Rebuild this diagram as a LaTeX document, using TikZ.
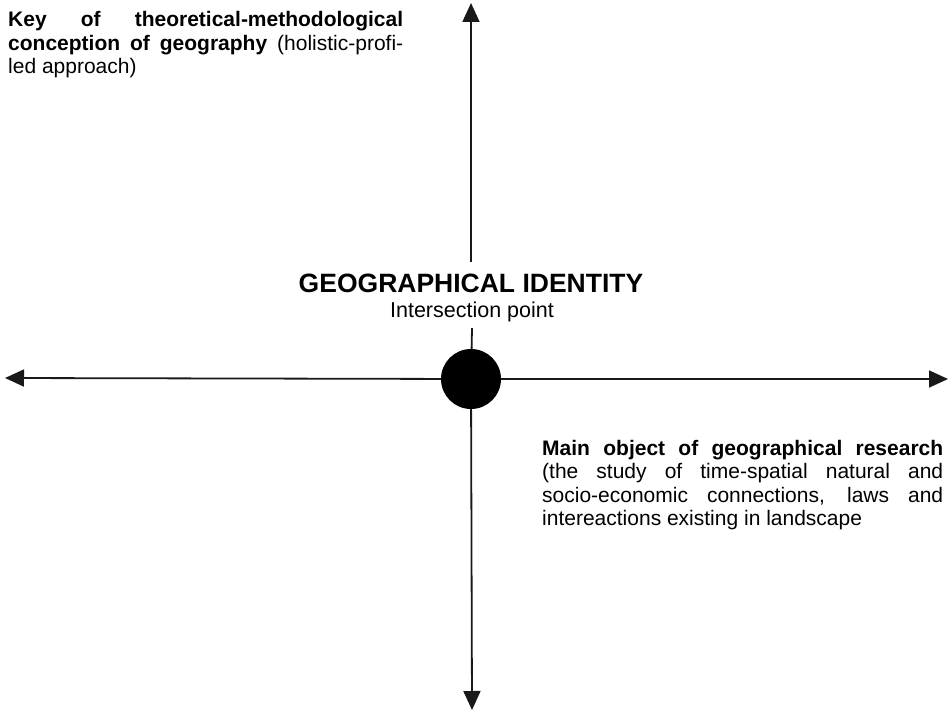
\documentclass[tikz,border=0pt]{standalone}
\usepackage{fontspec}
\setmainfont{Liberation Sans}
\usetikzlibrary{arrows.meta,positioning}

\tikzset{
  axis/.style={line width=1.8pt, draw=black!90, -{Triangle[length=19pt,width=17pt]}},
  plain/.style={line width=1.8pt, draw=black!90},
  notetext/.style={inner sep=0pt, align=justify, font=\fontsize{21}{23.5}\selectfont},
}

\begin{document}
\begin{tikzpicture}[x=1pt, y=-1pt]
  \useasboundingbox (0,0) rectangle (950,711);

  % intersection point and its labels
  \node[circle, fill=black, minimum size=60pt, inner sep=0pt] (hub) at (471,379) {};
  \node[anchor=base, inner xsep=0pt, inner ysep=11pt, font=\fontsize{26.5}{29}\selectfont\bfseries] (title) at (471,292) {GEOGRAPHICAL IDENTITY};
  \node[anchor=base, inner xsep=0pt, inner ysep=6.5pt, font=\fontsize{21.5}{23}\selectfont] (subtitle) at (472,317) {Intersection point};

  % arrow ends
  \coordinate (up) at (471,3);
  \coordinate (down) at (472,710);
  \coordinate (left) at (5,378);
  \coordinate (right) at (948,379);

  \draw[axis] (title.north) -- (up);
  \draw[plain] (subtitle.south) -- (hub);
  \draw[axis] (hub) -- (down);
  \draw[axis] (hub) -- (left);
  \draw[axis] (hub) -- (right);

  % explanations
  \node[notetext, text width=395pt, anchor=base west] (keytext) at (8,27) {
    \textbf{Key of theoretical-methodological\linebreak
    conception of geography} (holistic-profi-\linebreak
    led approach)};
  \node[notetext, text width=401pt, anchor=base west] (objecttext) at (542,455) {
    \textbf{Main object of geographical research}\linebreak
    (the study of time-spatial natural and\linebreak
    socio-economic connections, laws and\linebreak
    intereactions existing in landscape};
\end{tikzpicture}
\end{document}
